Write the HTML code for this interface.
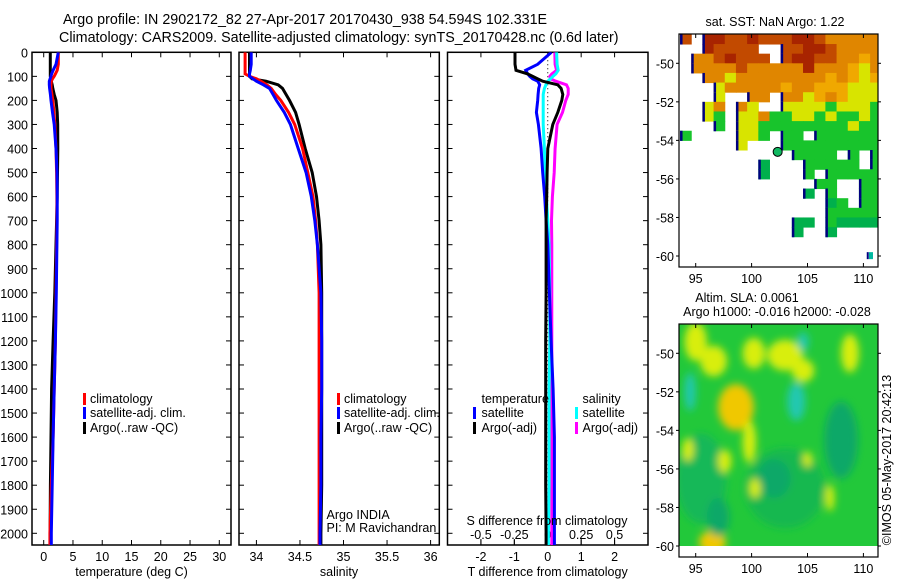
<!DOCTYPE html>
<html><head><meta charset="utf-8">
<style>
html,body{margin:0;padding:0;background:#fff;}
svg{display:block;font-family:"Liberation Sans",sans-serif;}
text{font-size:12.5px;fill:#000;}
</style></head>
<body>
<svg id="fig" width="900" height="580" viewBox="0 0 900 580">
<defs>
<clipPath id="c1"><rect x="32" y="52.3" width="199" height="492.7"/></clipPath>
<clipPath id="c2"><rect x="239" y="52.3" width="200.3" height="492.7"/></clipPath>
<clipPath id="c3"><rect x="447.5" y="52.3" width="200.5" height="492.7"/></clipPath>
<clipPath id="cm1"><rect x="679" y="34" width="199" height="233"/></clipPath>
<clipPath id="cm2"><rect x="679" y="324" width="199" height="222"/></clipPath>
<filter id="blur" x="-20%" y="-20%" width="140%" height="140%"><feGaussianBlur stdDeviation="4"/></filter>
</defs>
<text x="63" y="24" style="font-size:14.3px">Argo profile: IN 2902172_82 27-Apr-2017 20170430_938 54.594S 102.331E</text>
<text x="59" y="42" style="font-size:14.3px">Climatology: CARS2009. Satellite-adjusted climatology: synTS_20170428.nc (0.6d later)</text>
<g id="axes"></g>
<g id="maps"></g>
</svg>
<script>
// ---- profile data ----
const depths = [0,50,75,90,100,110,120,135,150,175,200,250,300,400,500,600,700,800,1000,1200,1400,1600,1800,2000,2050];
const tempClim = [2.5,2.5,2.3,2.0,1.8,1.5,1.3,1.25,1.25,1.4,1.55,1.75,1.9,2.1,2.2,2.25,2.25,2.2,2.1,2.0,1.8,1.6,1.3,1.05,1.05];
const tempSat  = [2.5,2.1,1.6,1.35,1.25,1.1,0.96,0.96,1.0,1.15,1.25,1.5,1.8,2.1,2.27,2.3,2.3,2.25,2.15,2.0,1.8,1.6,1.45,1.3,1.3];
const tempArgo = [1.13,1.13,1.13,1.13,1.13,1.2,1.3,1.45,1.55,1.8,2.1,2.3,2.39,2.4,2.35,2.3,2.2,2.1,1.9,1.6,1.35,1.25,1.15,1.1,1.1];
const salClim = [33.87,33.87,33.87,33.87,33.92,34.0,34.05,34.12,34.17,34.22,34.28,34.37,34.44,34.53,34.59,34.65,34.68,34.70,34.72,34.72,34.72,34.72,34.72,34.72,34.72];
const salSat  = [33.94,33.94,33.93,33.92,33.92,33.96,34.0,34.08,34.15,34.19,34.23,34.32,34.39,34.48,34.57,34.63,34.67,34.70,34.74,34.75,34.75,34.74,34.74,34.73,34.73];
const salArgo = [33.92,33.92,33.92,33.92,33.92,33.95,34.11,34.25,34.3,34.34,34.38,34.45,34.49,34.56,34.64,34.69,34.72,34.74,34.75,34.75,34.75,34.75,34.75,34.74,34.74];
const dTSat  = [0.11,-0.3,-0.66,-0.6,-0.54,-0.45,-0.3,-0.24,-0.27,-0.29,-0.3,-0.34,-0.28,-0.2,-0.15,-0.09,-0.05,0.0,0.05,0.1,0.16,0.2,0.2,0.2,0.2];
const dTArgo = [-0.98,-0.98,-0.95,-0.6,-0.45,-0.3,-0.15,0.3,0.4,0.45,0.42,0.3,0.15,0.0,-0.02,-0.03,-0.05,-0.05,-0.05,-0.06,-0.06,-0.06,-0.06,-0.05,-0.05];
const dSSat  = [0.066,0.07,0.078,0.06,0.04,0.02,0.0,-0.014,-0.025,-0.034,-0.034,-0.034,-0.034,-0.025,-0.02,-0.01,0.0,0.01,0.015,0.015,0.01,0.01,0.01,0.005,0.005];
const dSArgo = [0.053,0.055,0.066,0.03,0.016,0.02,0.06,0.14,0.153,0.153,0.135,0.11,0.07,0.055,0.048,0.035,0.028,0.03,0.03,0.03,0.03,0.03,0.03,0.03,0.03];
const depthTicks = [0,100,200,300,400,500,600,700,800,900,1000,1100,1200,1300,1400,1500,1600,1700,1800,1900,2000];
const tempTicks = [0,5,10,15,20,25,30];
const salTicks = [34,34.5,35,35.5,36];
const salTickLabels = ["34","34.5","35","35.5","36"];
const tdiffTicks = [-2,-1,0,1,2];
const sdiffTicks = [-0.5,-0.25,0,0.25,0.5];
const sdiffLabels = ["-0.5","-0.25","0","0.25","0.5"];
// ---- map data ----
const lonTicks = [95,100,105,110];
const latTicks = [-50,-52,-54,-56,-58,-60];
const argoLon = 102.331, argoLat = -54.594;
const sstRows = [
"r.RRrrRrrrRRrooooo",
"..Rrrrr..rrRRroooo",
".oorRrrr.rRRrrooOo",
".ooooroooooRoooOyo",
"..ooyooooooooOoOyO",
"...yoooooOooOOOyyy",
"...y..oo.ooyOoOyyy",
"..yo.oy..yyyygyyyg",
"..yg.yyoggyygyggyg",
"...g.yyggggggggygg",
"g....yyg.gg.gggggg",
".....y...ggggggggg",
"..........gggg.g.g",
".......G...ggggg.g",
".......G...g.ggggg",
"............gg..gg",
"...........G.g..gg",
".............Gg.gg",
".............ggggg",
"..........GG.gGGGG",
"..........G..G....",
"..................",
"..................",
".................."];
const sstColors = {r:"#c24a00",R:"#a82400",o:"#e08600",O:"#f0a800",y:"#d8e400",g:"#18c42c",G:"#00b04c"};
// sla blobs: lon, lat, rxDeg, ryDeg, colour-key
const slaLon = [95,96.6,98.6,100.2,103,104.6,108.8,99.8,94.3,97.6,105,107,96.5,104,94.5,102,108,97,104.6,100.3];
const slaLat = [-49.4,-50.4,-52.8,-50,-50.1,-50.9,-50,-54.6,-55,-55.6,-55.5,-57.5,-59.8,-52.5,-52,-56.5,-54.5,-58.5,-49.4,-57];
const slaRx  = [1,1.2,1.6,1,1.6,1,0.8,0.6,0.5,0.6,0.4,0.4,1.2,0.8,0.5,1.5,1.5,1,0.5,0.5];
const slaRy  = [1,0.8,1.2,0.8,0.8,0.6,1,1.1,0.6,0.6,0.4,0.7,0.6,1,1,1,2,1,0.5,0.5];
const slaKind= ["y","y","o","y","y","y","y","y","y","y","y","y","o","c","c","t","t","t","c","y"];
const slaColors = {y:"#d8ee10",o:"#f0c800",c:"#20c8b0",t:"#10a868"};

const NS="http://www.w3.org/2000/svg";
function mk(tag,attrs,parent){const e=document.createElementNS(NS,tag);for(const k in attrs)e.setAttribute(k,attrs[k]);parent.appendChild(e);return e;}
const axes=document.getElementById('axes');
const Y0=52.3, DY=0.2405, YB=545;
const yD = d => Y0 + d*DY;
const panels=[
 {x0:32,x1:231,min:-2,max:32,clip:"c1"},
 {x0:239,x1:439.3,min:33.8,max:36.1,clip:"c2"},
 {x0:447.5,x1:648,min:-3,max:3,clip:"c3"}];
function xf(p,v){return p.x0+(v-p.min)/(p.max-p.min)*(p.x1-p.x0);}

panels.forEach((p,i)=>{
  const g=mk('g',{},axes);
  
  
  const r=mk('rect',{x:p.x0,y:Y0,width:p.x1-p.x0,height:YB-Y0,fill:'none',stroke:'#000','stroke-width':1.5},g);
  
  
  depthTicks.forEach(d=>{
    const y=yD(d);
    mk('line',{x1:p.x0,x2:p.x0+5,y1:y,y2:y,stroke:'#000'},g);
    mk('line',{x1:p.x1,x2:p.x1-5,y1:y,y2:y,stroke:'#000'},g);
    if(i===0){const t=mk('text',{x:28,y:y+5,'text-anchor':'end'},g);t.textContent=d;
      
      }
  });
});
// x ticks
function xticks(p,vals,labels,ylab){
  vals.forEach((v,k)=>{const x=xf(p,v);
    mk('line',{x1:x,x2:x,y1:YB,y2:YB-5,stroke:'#000'},axes);
    mk('line',{x1:x,x2:x,y1:Y0,y2:Y0+5,stroke:'#000'},axes);
    const t=mk('text',{x:x,y:ylab,'text-anchor':'middle'},axes);t.textContent=labels[k];
    
    });
}
xticks(panels[0],tempTicks,tempTicks.map(String),561);
xticks(panels[1],salTicks,salTickLabels,561);
xticks(panels[2],tdiffTicks,tdiffTicks.map(String),561);
sdiffTicks.forEach((v,k)=>{const x=xf(panels[2],v*4);
  mk('line',{x1:x,x2:x,y1:YB,y2:YB-6,stroke:'#000'},axes);
  const t=mk('text',{x:x,y:539,'text-anchor':'middle'},axes);t.textContent=sdiffLabels[k];
  
  });
// zero line panel 3
{const x=xf(panels[2],0);const l=mk('line',{x1:x,x2:x,y1:Y0,y2:YB,stroke:'#000','stroke-dasharray':'1 3'},axes);
 
 }

function series(p,vals,col,name,scale){
  const pts=depths.map((d,k)=>xf(p,vals[k]*(scale||1)).toFixed(1)+','+yD(d).toFixed(1)).join(' ');
  const l=mk('polyline',{points:pts,fill:'none',stroke:col,'stroke-width':3,'clip-path':'url(#'+p.clip+')'},axes);
  
  
}
series(panels[0],tempArgo,'#000','temp-argo-line');
series(panels[0],tempClim,'#f00','temp-climatology-line');
series(panels[0],tempSat,'#00f','temp-satellite-line');
series(panels[1],salArgo,'#000','sal-argo-line');
series(panels[1],salClim,'#f00','sal-climatology-line');
series(panels[1],salSat,'#00f','sal-satellite-line');
series(panels[2],dSArgo,'#f0f','sdiff-argo-line',4);
series(panels[2],dSSat,'#0ff','sdiff-satellite-line',4);
series(panels[2],dTSat,'#00f','tdiff-satellite-line');
series(panels[2],dTArgo,'#000','tdiff-argo-line');

function label(x,y,s,name,anchor){const t=mk('text',{x:x,y:y,'text-anchor':anchor||'start'},axes);t.textContent=s;
  
  return t;}
function legend(mx,tx,y,col,s){
  const r=mk('rect',{x:mx,y:y-10,width:3,height:12,fill:col},axes);
  
  
  label(tx,y,s,'legend-entry');
}
legend(83,90,403,'#f00','climatology');
legend(83,90,417,'#00f','satellite-adj. clim.');
legend(83,90,432,'#000','Argo(..raw -QC)');
legend(337,344,403,'#f00','climatology');
legend(337,344,417,'#00f','satellite-adj. clim.');
legend(337,344,432,'#000','Argo(..raw -QC)');
label(481.5,403,'temperature','legend-title-temperature');
label(582.5,403,'salinity','legend-title-salinity');
legend(473,481.5,417,'#00f','satellite');
legend(473,481.5,432,'#000','Argo(-adj)');
legend(575,582.5,417,'#0ff','satellite');
legend(575,582.5,432,'#f0f','Argo(-adj)');
label(326.5,519,'Argo INDIA','argo-program-note');
label(326.5,532,'PI: M Ravichandran','pi-note');
label(547,525,'S difference from climatology','s-diff-axis-title','middle');
label(131.5,576,'temperature (deg C)','temp-axis-title','middle');
label(339,576,'salinity','sal-axis-title','middle');
label(547.7,576,'T difference from climatology','t-diff-axis-title','middle');

// ---- maps ----
const maps=document.getElementById('maps');
const MX0=679,MX1=878;
const lonX = lon => 695.7 + (lon-95)*11.18;
const latY1 = lat => 63.3 + (-50-lat)*19.27;
const latY2 = lat => 353.3 + (-50-lat)*19.27;
function mapFrame(y0,y1,latY,name){
  const g=mk('g',{},maps);
  
  
  mk('rect',{x:MX0,y:y0,width:MX1-MX0,height:y1-y0,fill:'none',stroke:'#000','stroke-width':1.2},g);
  lonTicks.forEach(lon=>{const x=lonX(lon);
    mk('line',{x1:x,x2:x,y1:y1,y2:y1-4,stroke:'#000'},g);
    mk('line',{x1:x,x2:x,y1:y0,y2:y0+4,stroke:'#000'},g);
    const t=mk('text',{x:x,y:y1+16,'text-anchor':'middle'},g);t.textContent=lon;
    
    });
  latTicks.forEach(lat=>{const y=latY(lat);
    mk('line',{x1:MX0,x2:MX0-3,y1:y,y2:y,stroke:'#000'},g);
    mk('line',{x1:MX1,x2:MX1+3,y1:y,y2:y,stroke:'#000'},g);
    const t=mk('text',{x:MX0-5,y:y+5,'text-anchor':'end'},g);t.textContent=lat;
    
    });
}
// SST map
{
 const g=mk('g',{'clip-path':'url(#cm1)'},maps);
 
 
 sstRows.forEach((row,ri)=>{
   const latTop=-48.5-ri*0.5;
   for(let ci=0;ci<row.length;ci++){
     const c=row[ci]; if(c==='.') continue;
     const x=lonX(93.6+ci), w=11.18, y=latY1(latTop), h=19.27*0.5;
     mk('rect',{x:x,y:y,width:w+0.5,height:h+0.5,fill:sstColors[c]},g);
     if(ci===0||row[ci-1]==='.') mk('rect',{x:x,y:y,width:2.5,height:h+0.5,fill:'#000080'},g);
   }
 });
 mk('rect',{x:lonX(110.3),y:latY1(-59.8),width:2,height:7,fill:'#000080'},g);
 mk('rect',{x:lonX(110.5),y:latY1(-59.8),width:4,height:7,fill:'#00b8a0'},g);
 const m=mk('circle',{cx:lonX(argoLon),cy:latY1(argoLat),r:4.5,fill:'#10b860',stroke:'#000','stroke-width':1},g);
 
 
}
mapFrame(34,267,latY1,'sst-map');
{const t=mk('text',{x:775,y:26,'text-anchor':'middle'},maps);t.textContent='sat. SST: NaN Argo: 1.22';
 
 }
// SLA map
{
 const g=mk('g',{'clip-path':'url(#cm2)'},maps);
 
 
 mk('rect',{x:MX0,y:324,width:MX1-MX0,height:222,fill:'#22c83a'},g);
 const bg=mk('g',{filter:'url(#blur)'},g);
 mk('ellipse',{cx:lonX(95.5),cy:latY2(-56.5),rx:25,ry:45,fill:'#14b858'},bg);
 mk('ellipse',{cx:lonX(103),cy:latY2(-57),rx:40,ry:40,fill:'#18b850'},bg);
 slaLon.forEach((lon,k)=>{
   mk('ellipse',{cx:lonX(lon),cy:latY2(slaLat[k]),rx:slaRx[k]*11.18,ry:slaRy[k]*19.27,fill:slaColors[slaKind[k]]},bg);
 });
}
mapFrame(324,557,latY2,'sla-map');
{let t=mk('text',{x:747,y:302,'text-anchor':'middle'},maps);t.textContent='Altim. SLA: 0.0061';
 
 
 t=mk('text',{x:777,y:316,'text-anchor':'middle'},maps);t.textContent='Argo h1000: -0.016 h2000: -0.028';
 
 
 t=mk('text',{x:891,y:460,'text-anchor':'middle',transform:'rotate(-90 891 460)'},maps);t.textContent='©IMOS 05-May-2017 20:42:13';
 
 }
</script>
</body></html>
